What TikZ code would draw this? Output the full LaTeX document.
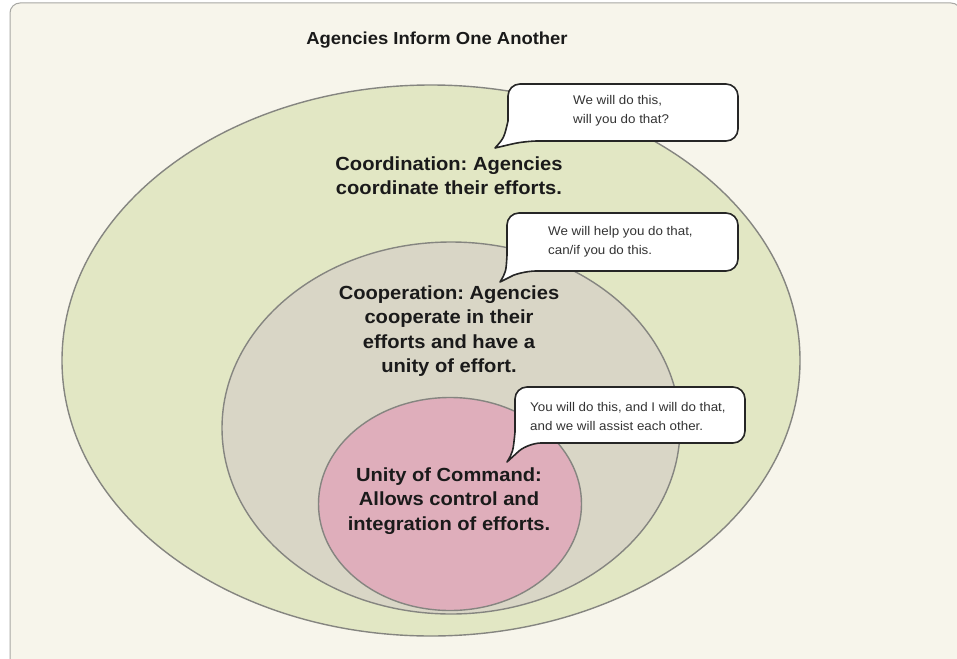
\documentclass[tikz,border=0pt]{standalone}
\usepackage{fontspec}
\setmainfont{Liberation Sans}[FakeStretch=1.06]
\usetikzlibrary{shapes.geometric}
\frenchspacing
\definecolor{bgcol}{HTML}{F7F5EB}
\definecolor{framecol}{HTML}{A8A8A4}
\definecolor{outercol}{HTML}{E2E7C4}
\definecolor{midcol}{HTML}{D9D6C6}
\definecolor{innercol}{HTML}{DFAEBB}
\definecolor{edgecol}{HTML}{858580}
\definecolor{labelcol}{HTML}{1A1A1A}
\definecolor{bubtext}{HTML}{333333}
\tikzset{
  zone/.style={ellipse, draw=edgecol, line width=1.4pt, inner sep=0pt},
  zonelabel/.style={align=center, text=labelcol, font=\fontsize{19}{24.5}\selectfont\bfseries},
  bubble/.style={draw=black!85, fill=white, line width=1.6pt, line join=round},
  bubbletext/.style={align=left, anchor=west, text=bubtext, inner sep=0pt, font=\fontsize{12.6}{19}\selectfont},
  titletext/.style={text=labelcol, font=\fontsize{17.4}{20}\selectfont\bfseries}
}
\begin{document}
\begin{tikzpicture}[x=1pt,y=-1pt]
\useasboundingbox (0,0) rectangle (957,658);
\clip (0,0) rectangle (957,658);
\fill[white] (0,0) rectangle (957,658);
\draw[framecol, fill=bgcol, line width=1pt, rounded corners=10pt] (10,3) rectangle (961,720);

\node[titletext] (title) at (437,40) {Agencies Inform One Another};

\node[zone, fill=outercol, minimum width=738pt, minimum height=551pt] (outer) at (431,360.5) {};
\node[zone, fill=midcol, minimum width=458pt, minimum height=372pt] (middle) at (451,428) {};
\node[zone, fill=innercol, minimum width=263pt, minimum height=213pt] (inner) at (450,504) {};

\node[zonelabel] (coord) at (449,175.5) {Coordination: Agencies\\coordinate their efforts.};
\node[zonelabel] (coop) at (449,331) {Cooperation: Agencies\\cooperate in their\\efforts and have a\\unity of effort.};
\node[zonelabel] (unity) at (449,501) {Unity of Command:\\Allows control and\\integration of efforts.};

% bubble 1
\draw[bubble] (508,121) [rounded corners=12pt] -- (508,84) -- (738,84) -- (738,141) -- (526,141) [sharp corners]
  .. controls (512,144) .. (495,148) .. controls (504,138) .. (508,121) -- cycle;
\node[bubbletext] (b1) at (573,111) {We will do this,\\will you do that?};

% bubble 2
\draw[bubble] (507,255) [rounded corners=12pt] -- (507,213) -- (738,213) -- (738,271) -- (524,271) [sharp corners]
  .. controls (514,275) .. (500,282) .. controls (506,272) .. (507,255) -- cycle;
\node[bubbletext] (b2) at (548,242) {We will help you do that,\\can/if you do this.};

% bubble 3
\draw[bubble] (515,432) [rounded corners=12pt] -- (515,387) -- (745,387) -- (745,443) -- (529,443) [sharp corners]
  .. controls (519,451) .. (507,462) .. controls (513,452) .. (515,432) -- cycle;
\node[bubbletext] (b3) at (530,416) {You will do this, and I will do that,\\and we will assist each other.};
\end{tikzpicture}
\end{document}
